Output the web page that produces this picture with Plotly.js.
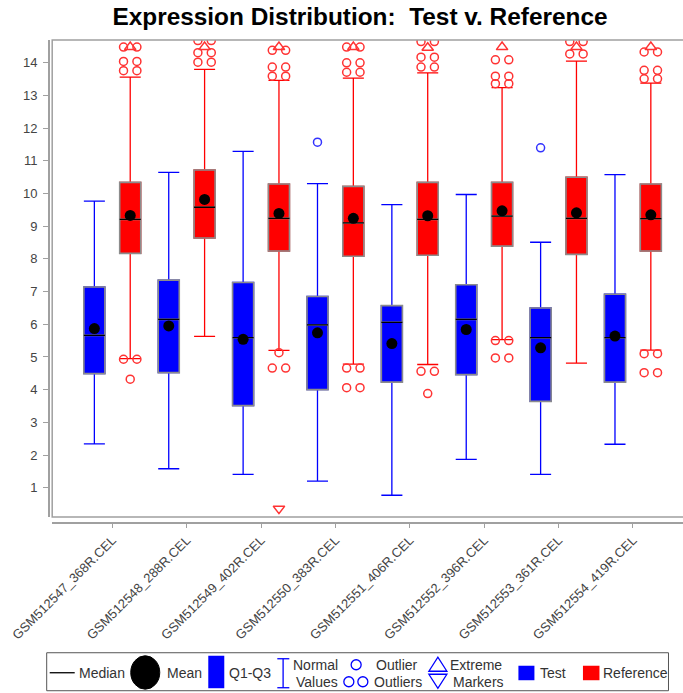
<!DOCTYPE html>
<html><head><meta charset="utf-8">
<script src="https://cdn.plot.ly/plotly-3.0.1.min.js"></script>
<style>html,body{margin:0;padding:0;overflow:hidden;background:#fff}#chart{width:720px;height:693px}</style>
</head><body><div id="chart"></div>
<script>
// ---------------- data ----------------
const categories = ["GSM512547_368R.CEL","GSM512548_288R.CEL","GSM512549_402R.CEL","GSM512550_383R.CEL",
                    "GSM512551_406R.CEL","GSM512552_396R.CEL","GSM512553_361R.CEL","GSM512554_419R.CEL"];
const yTicks = [1,2,3,4,5,6,7,8,9,10,11,12,13,14];

// Test series
const testLow    = [2.34, 1.58, 1.41, 1.20, 0.77, 1.87, 1.41, 2.33];
const testQ1     = [4.49, 4.52, 3.51, 4.00, 4.23, 4.46, 3.64, 4.23];
const testMedian = [5.66, 6.15, 5.59, 5.98, 6.06, 6.15, 5.59, 5.59];
const testQ3     = [7.14, 7.35, 7.28, 6.85, 6.57, 7.21, 6.50, 6.92];
const testHigh   = [9.77, 10.65, 11.29, 10.30, 9.66, 9.97, 8.51, 10.58];
const testMean   = [5.87, 5.95, 5.54, 5.74, 5.41, 5.84, 5.28, 5.64];
const testOutliers = [[], [], [], [11.57], [], [], [11.40], []];

// Reference series
const refLow    = [4.95, 5.63, 5.20, 4.78, 4.77, 5.53, 4.81, 5.21];
const refQ1     = [8.17, 8.64, 8.24, 8.08, 8.11, 8.39, 8.14, 8.24];
const refMedian = [9.21, 9.58, 9.24, 9.10, 9.21, 9.31, 9.24, 9.23];
const refQ3     = [10.34, 10.72, 10.29, 10.22, 10.34, 10.34, 10.50, 10.29];
const refHigh   = [13.56, 13.80, 13.46, 13.53, 13.69, 13.24, 14.05, 13.38];
const refMean   = [9.33, 9.82, 9.39, 9.24, 9.32, 9.47, 9.41, 9.35];
// clustered outliers (drawn as two circles side by side)
const refOutlierPairs = [[13.76,14.04,14.48,4.93], [14.02,14.31,14.68], [13.59,13.87,14.38,4.66],
                         [13.71,14.00,14.48,4.66,4.06], [13.87,14.17,14.65,4.56], [13.36,13.59,14.09,5.50,4.97],
                         [14.27,14.65], [13.51,13.77,14.33,5.10,4.52]];
// single outliers
const refOutlierSingles = [[4.32], [], [5.13], [], [3.88], [], [], []];
// extreme markers
const refExtremeHigh = [14.48, 14.48, 14.48, 14.48, 14.46, 14.48, 14.48, 14.48];
const refExtremeLow  = [null, null, 0.36, null, null, null, null, null];

// ---------------- layout constants ----------------
const W=720, H=693, ML=48.3, MR=27, MT=39.5, MB=171.3;
const PW=W-ML-MR, PH=H-MT-MB;
const px = x => (x-ML)/PW, py = y => (H-MB-y)/PH;
const SHIFT=0.241, BW=0.283, PAIR=0.09;
const BLUE='#0000ff', RED='#ff0000', FONT='"Liberation Sans", Arial, sans-serif';

const idx = categories.map((_, i) => i);
const xTest = idx.map(i => i - SHIFT);
const xRef  = idx.map(i => i + SHIFT);

function boxSet(xs, low, q1, med, q3, high, color) {
  const common = {type:'box', x:xs, width:BW, hoverinfo:'skip', showlegend:false, boxpoints:false};
  return [
    Object.assign({}, common, {q1:q1, median:med, q3:q3, lowerfence:low, upperfence:high,
      whiskerwidth:1, fillcolor:color, line:{color:color, width:1.3}}),
    Object.assign({}, common, {q1:q1, median:med, q3:q3, lowerfence:q1, upperfence:q3,
      whiskerwidth:0, fillcolor:color, line:{color:'#8c8c8c', width:1.6}}),
    Object.assign({}, common, {q1:med, median:med, q3:med, lowerfence:med, upperfence:med,
      whiskerwidth:0, fillcolor:'rgba(0,0,0,0)', line:{color:'#000000', width:1.3}})
  ];
}
function points(centers, groups, dx) {
  const xs=[], ys=[];
  groups.forEach((vals, i) => vals.forEach(v => {
    if (dx) { xs.push(centers[i]-dx, centers[i]+dx); ys.push(v, v); }
    else { xs.push(centers[i]); ys.push(v); }
  }));
  return {xs, ys};
}
function markers(p, symbol, size, color) {
  return {type:'scatter', mode:'markers', x:p.xs, y:p.ys, hoverinfo:'skip', showlegend:false,
    marker:{symbol:symbol, size:size, color:color, line:{width:1.5, color:color}}};
}

const refPairs = points(xRef, refOutlierPairs, PAIR);
const refSingles = points(xRef, refOutlierSingles, 0);
const testSingles = points(xTest, testOutliers, 0);
const extHigh = points(xRef, refExtremeHigh.map(v => v==null?[]:[v]), 0);
const extLow  = points(xRef, refExtremeLow.map(v => v==null?[]:[v]), 0);

const data = [].concat(
  boxSet(xTest, testLow, testQ1, testMedian, testQ3, testHigh, BLUE),
  boxSet(xRef, refLow, refQ1, refMedian, refQ3, refHigh, RED),
  [
    markers(refPairs, 'circle-open', 8, '#ff3333'),
    markers(refSingles, 'circle-open', 8, '#ff3333'),
    markers(testSingles, 'circle-open', 8, '#3333ff'),
    markers(extHigh, 'triangle-up-open', 10, '#ff3333'),
    markers(extLow, 'triangle-down-open', 10, '#ff3333'),
    {type:'scatter', mode:'markers', x:xTest, y:testMean, hoverinfo:'skip', showlegend:false,
     marker:{color:'#000', size:11}},
    {type:'scatter', mode:'markers', x:xRef, y:refMean, hoverinfo:'skip', showlegend:false,
     marker:{color:'#000', size:11}}
  ]);

// ---------------- legend (custom box below the chart) ----------------
const shapes = [
  {type:'rect', xref:'x domain', yref:'y domain', x0:0, x1:1, y0:0, y1:1, line:{color:'#a0a0a0', width:1.5}, layer:'above'},
  {type:'rect', xref:'paper', yref:'paper', x0:px(47), x1:px(668.5), y0:py(652.5), y1:py(690.5), line:{color:'#555', width:1}},
  {type:'line', xref:'paper', yref:'paper', x0:px(50), x1:px(75), y0:py(672.5), y1:py(672.5), line:{color:'#000', width:1.3}},
  {type:'circle', xref:'paper', yref:'paper', x0:px(131), x1:px(160), y0:py(655.5), y1:py(689), fillcolor:'#000', line:{color:'#000', width:1}},
  {type:'rect', xref:'paper', yref:'paper', x0:px(208.5), x1:px(224.5), y0:py(655.5), y1:py(688), fillcolor:BLUE, line:{width:0}},
  {type:'line', xref:'paper', yref:'paper', x0:px(283.3), x1:px(283.3), y0:py(658.5), y1:py(687.5), line:{color:BLUE, width:1.3}},
  {type:'line', xref:'paper', yref:'paper', x0:px(277.5), x1:px(289.5), y0:py(658.5), y1:py(658.5), line:{color:BLUE, width:1.3}},
  {type:'line', xref:'paper', yref:'paper', x0:px(277.5), x1:px(289.5), y0:py(687.5), y1:py(687.5), line:{color:BLUE, width:1.3}},
  {type:'circle', xref:'paper', yref:'paper', x0:px(351.3), x1:px(361.3), y0:py(659.5), y1:py(669.5), line:{color:BLUE, width:1.3}},
  {type:'circle', xref:'paper', yref:'paper', x0:px(344), x1:px(354), y0:py(676.5), y1:py(686.5), line:{color:BLUE, width:1.3}},
  {type:'circle', xref:'paper', yref:'paper', x0:px(358), x1:px(368), y0:py(676.5), y1:py(686.5), line:{color:BLUE, width:1.3}},
  {type:'path', xref:'paper', yref:'paper', path:`M ${px(429)} ${py(671)} L ${px(438)} ${py(657)} L ${px(447)} ${py(671)} Z`, line:{color:BLUE, width:1.3}},
  {type:'path', xref:'paper', yref:'paper', path:`M ${px(429)} ${py(674)} L ${px(447)} ${py(674)} L ${px(438)} ${py(688)} Z`, line:{color:BLUE, width:1.3}},
  {type:'rect', xref:'paper', yref:'paper', x0:px(518.5), x1:px(534.5), y0:py(665.5), y1:py(680), fillcolor:BLUE, line:{width:0}},
  {type:'rect', xref:'paper', yref:'paper', x0:px(583), x1:px(599.5), y0:py(665.5), y1:py(680), fillcolor:RED, line:{width:0}}
];
function lab(text, x, y) {
  return {text:text, xref:'paper', yref:'paper', x:px(x-1), y:py(y), xanchor:'left', yanchor:'middle',
          showarrow:false, font:{family:FONT, size:14, color:'#333'}};
}
const annotations = [
  lab('Median', 78, 672.5), lab('Mean', 166, 672.5), lab('Q1-Q3', 228, 672.5),
  lab('Normal', 292, 664.5), lab('Values', 295, 681.5),
  lab('Outlier', 375, 664.5), lab('Outliers', 373, 681.5),
  lab('Extreme', 449, 664.5), lab('Markers', 452.5, 681.5),
  lab('Test', 539.5, 672.5), lab('Reference', 602.5, 672.5)
];

const layout = {
  width:W, height:H, paper_bgcolor:'#fff', plot_bgcolor:'#fff',
  margin:{l:ML, r:MR, t:MT, b:MB, pad:0},
  font:{family:FONT, color:'#444'},
  title:{text:'<b>Expression Distribution:\u00a0 Test v. Reference</b>', x:0.5, xref:'container', xanchor:'center',
         y:1-16/H, yref:'container', yanchor:'middle', font:{family:FONT, size:24.4, color:'#000'}},
  boxmode:'overlay', showlegend:false,
  xaxis:{domain:[4.2/PW, 1], range:[-0.808, 7.808], anchor:'free', position:0,
         tickmode:'array', tickvals:idx, ticktext:categories, tickangle:-45,
         showgrid:false, zeroline:false, showline:true, linecolor:'#a0a0a0', linewidth:1.5,
         ticks:'outside', ticklen:4, tickcolor:'#a0a0a0', tickwidth:1,
         tickfont:{family:FONT, size:13, color:'#444'}},
  yaxis:{domain:[5/PH, 1], range:[0.104, 14.697], anchor:'free', position:0,
         tickmode:'array', tickvals:yTicks, showgrid:false, zeroline:false,
         showline:true, linecolor:'#a0a0a0', linewidth:1.5,
         ticks:'outside', ticklen:5, tickcolor:'#a0a0a0', tickwidth:1, ticklabelstandoff:3,
         tickfont:{family:FONT, size:13, color:'#444'}},
  shapes:shapes, annotations:annotations
};
Plotly.newPlot('chart', data, layout, {staticPlot:true, displayModeBar:false});
</script></body></html>
